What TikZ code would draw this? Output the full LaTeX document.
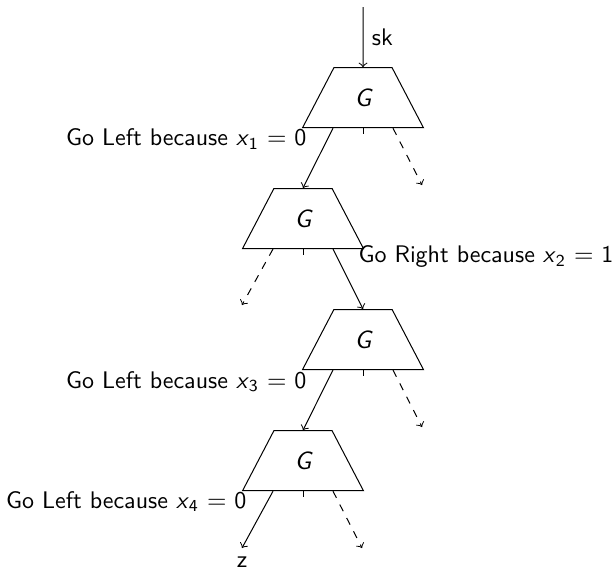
\documentclass[tikz,border=0pt]{standalone}
\usepackage{amsmath}
\usetikzlibrary{shapes.geometric}
\newcommand\myx[1]{\textit{x}$_{\textsf{#1}}$}
\begin{document}
\begin{tikzpicture}[x={(0.4pt,0)},y={(0,-0.4pt)},
  font=\fontsize{9.6}{11.5}\selectfont\sffamily,
  gbox/.style={draw,trapezium,trapezium stretches=true,trapezium left angle=63.4,
    trapezium right angle=63.4,minimum width=48.4pt,minimum height=24pt,inner sep=0pt,
    font=\fontsize{10}{12}\selectfont\sffamily\itshape},
  arr/.style={->},
  darr/.style={->,dashed},
  lab/.style={inner sep=0pt}]
\useasboundingbox (0,0) rectangle (615,576);
\node[gbox] (g1) at (363,97.7) {G};
\node[gbox] (g2) at (303,218.5) {G};
\node[gbox] (g3) at (363,339.5) {G};
\node[gbox] (g4) at (303,460.7) {G};
\coordinate (top) at (363,7);
\coordinate (d1) at (422,185);
\coordinate (d2) at (242,305);
\coordinate (d3) at (422,427);
\coordinate (d4) at (362,548);
\coordinate (zend) at (242,548);
\foreach \g in {g1,g2,g3,g4}{\draw (\g.south) -- ++(0,6);}
\draw[arr] (top) -- node[right,pos=0.5] {sk} (g1.north);
\draw[arr] ([xshift=-12pt]g1.south) -- (g2.north);
\draw[darr] ([xshift=12pt]g1.south) -- (d1);
\draw[darr] ([xshift=-12pt]g2.south) -- (d2);
\draw[arr] ([xshift=12pt]g2.south) -- (g3.north);
\draw[arr] ([xshift=-12pt]g3.south) -- (g4.north);
\draw[darr] ([xshift=12pt]g3.south) -- (d3);
\draw[arr] ([xshift=-12pt]g4.south) -- (zend);
\draw[darr] ([xshift=12pt]g4.south) -- (d4);
\node[below] (z) at (zend) {z};
\node[lab,anchor=base east] (l1) at (307,145.5) {Go Left because \myx{1} $=$ 0};
\node[lab,anchor=base west] (l2) at (358,262.7) {Go Right because \myx{2} $=$ 1};
\node[lab,anchor=base east] (l3) at (307,388) {Go Left because \myx{3} $=$ 0};
\node[lab,anchor=base east] (l4) at (247,508) {Go Left because \myx{4} $=$ 0};
\end{tikzpicture}
\end{document}
